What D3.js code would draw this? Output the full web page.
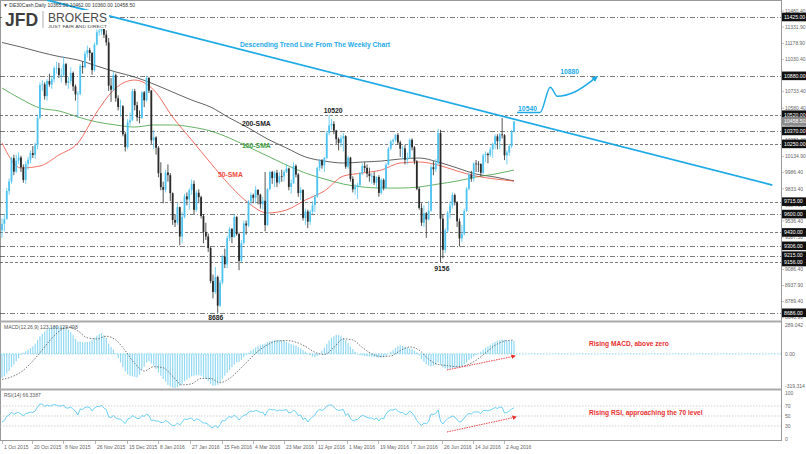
<!DOCTYPE html>
<html><head><meta charset="utf-8">
<script src="https://cdn.jsdelivr.net/npm/d3@7"></script>
<style>body{margin:0;background:#fff}svg{display:block}text{font-family:"Liberation Sans",Arial,sans-serif}</style>
</head><body><svg id="c" width="806" height="454"></svg>
<script>
// ---------- DATA ----------
const open=[9450,9509,9553,9814,9902,10118,9993,10096,10124,10033,9916,10065,10104,10165,10147,10238,10492,10795,10801,10692,10832,10800,
10850,10951,10951,10887,10887,10988,10815,10832,10907,10782,10708,10713,10971,10960,11085,11119,11092,10933,11170,11284,11293,
11382,11261,11190,10789,10752,10886,10673,10592,10598,10340,10220,10450,10469,10738,10608,10497,10489,10727,10653,10860,
10743,10283,10310,10214,9979,9849,9825,9985,9960,9794,9545,9521,9664,9392,9574,9764,9736,9822,9880,9639,
9798,9757,9582,9435,9393,9286,8980,8879,9017,8752,8967,9207,9135,9377,9463,9388,9574,9416,9167,9331,9513,
9495,9717,9776,9751,9824,9778,9692,9723,9498,9831,9990,9933,9983,9892,9950,9948,9990,10022,9851,9887,10046,
9966,9795,9822,9564,9624,9530,9622,9682,9761,10027,10094,10051,10120,10350,10421,10435,10373,10294,10260,10300,10321,
10039,10123,9926,9829,9851,9870,9980,10045,10028,9975,9952,9953,9891,9943,9796,9917,9842,10058,10205,10273,10287,10333,
10263,10205,10208,10103,10121,10288,10218,10089,9834,9657,9520,9607,9551,9631,10034,10015,10071,10350,9557,9269,9448,9612,
9680,9776,9710,9533,9374,9419,9630,9834,9965,9930,10068,10066,10064,9982,10143,10157,10147,10198,10248,10320,10275,
10338,10330,10144,10170,10228,10365];
const high=[9560,9600,9840,9930,10130,10150,10150,10170,10140,10060,10090,10130,10190,10230,10260,10520,10820,10840,10820,10850,10900,10880,
10970,11010,11000,10950,11060,11000,10870,10960,10920,10800,10740,10990,11010,11110,11160,11140,11100,11190,11310,11330,11400,
11425,11300,11230,10860,10920,10900,10700,10660,10610,10360,10480,10540,10760,10760,10640,10560,10740,10740,10880,10870,
10750,10380,10320,10230,10080,9900,10010,10060,9980,9800,9600,9700,9670,9620,9790,9800,9840,9920,9910,9820,
9830,9770,9600,9520,9420,9300,9040,9110,9030,8990,9220,9280,9400,9480,9470,9600,9580,9430,9360,9540,9540,
9730,9800,9790,9860,9830,9790,9760,9990,9840,10000,10000,10000,10010,9990,10010,10010,10060,10030,9920,10080,10060,
9980,9850,9830,9650,9640,9640,9720,9780,10040,10110,10110,10130,10370,10520,10480,10460,10380,10310,10330,10350,10330,
10140,10130,9950,9880,9890,9990,10070,10080,10060,10030,9980,9990,9950,9960,9930,9930,10070,10220,10290,10300,10340,10350,
10280,10230,10240,10170,10300,10300,10230,10100,9850,9700,9680,9620,9720,10060,10090,10110,10390,10380,9600,9470,9630,9720,
9800,9790,9720,9560,9500,9650,9850,9980,10000,10080,10100,10090,10070,10160,10180,10170,10220,10260,10340,10340,10350,
10490,10340,10190,10250,10380,10462];
const low=[9380,9440,9550,9780,9880,9960,9980,10060,9990,9890,9880,10010,10070,10120,10110,10200,10480,10740,10660,10650,10780,10760,
10820,10900,10860,10820,10870,10790,10760,10800,10740,10650,10490,10700,10900,10950,11050,11020,10890,10920,11160,11250,11260,
11230,11160,10740,10640,10740,10640,10560,10500,10320,10180,10200,10420,10460,10560,10460,10440,10480,10590,10640,10720,
10250,10200,10150,9940,9820,9700,9800,9900,9720,9500,9480,9500,9310,9330,9560,9680,9640,9780,9600,9620,
9700,9560,9330,9360,9250,8960,8820,8860,8686,8740,8950,9100,9100,9350,9330,9380,9400,9080,9150,9320,9410,
9480,9680,9700,9700,9690,9650,9640,9440,9490,9820,9880,9850,9850,9880,9900,9900,9980,9820,9790,9880,9940,
9760,9730,9540,9500,9470,9500,9600,9620,9750,10000,10020,9990,10110,10330,10380,10340,10250,10190,10220,10180,10020,
10020,9900,9800,9780,9740,9850,9960,9990,9940,9900,9880,9870,9840,9760,9780,9820,9830,10050,10190,10240,10270,10240,
10130,10110,10060,10060,10110,10190,10060,9820,9640,9490,9480,9380,9540,9620,9960,9990,10060,9156,9190,9240,9430,9560,
9650,9680,9480,9300,9340,9400,9620,9820,9900,9900,9990,9990,9950,9970,10080,10070,10130,10120,10200,10200,10200,
10300,10100,10060,10140,10210,10360];
const close=[9509,9553,9814,9902,10118,9993,10096,10124,10033,9916,10065,10104,10165,10147,10238,10492,10795,10801,10692,10832,10800,10850,
10951,10951,10887,10887,10988,10815,10832,10907,10782,10708,10713,10971,10960,11085,11119,11092,10933,11170,11284,11293,11382,
11261,11190,10789,10752,10886,10673,10592,10598,10340,10220,10450,10469,10738,10608,10497,10489,10727,10653,10860,10743,
10283,10310,10214,9979,9849,9825,9985,9960,9794,9545,9521,9664,9392,9574,9764,9736,9822,9880,9639,9798,
9757,9582,9435,9393,9286,8980,8879,9017,8752,8967,9207,9135,9377,9463,9388,9574,9416,9167,9331,9513,9495,
9717,9776,9751,9824,9778,9692,9723,9498,9831,9990,9933,9983,9892,9950,9948,9990,10022,9851,9887,10046,9966,
9795,9822,9564,9624,9530,9622,9682,9761,10027,10094,10051,10120,10350,10421,10435,10373,10294,10260,10300,10321,10039,
10123,9926,9829,9851,9870,9980,10045,10028,9975,9952,9953,9891,9943,9796,9917,9842,10058,10205,10273,10287,10333,10263,
10205,10208,10103,10121,10288,10218,10089,9834,9657,9520,9607,9551,9631,10034,10015,10071,10350,9557,9269,9448,9612,9680,
9776,9710,9533,9374,9419,9630,9834,9965,9930,10068,10066,10064,9982,10143,10157,10147,10198,10248,10320,10275,10338,
10330,10144,10170,10228,10367,10458.5];

// moving averages sampled every 8 bars
const smaIdx=[0,8,16,24,32,40,48,56,64,72,80,88,96,104,112,120,128,136,144,152,160,168,176,184,192,200,208,216];
const sma50=[10258,10027,10045,10147,10258,10545,10767,10841,10749,10499,10286,10073,9869,9702,9610,9638,9730,9814,9952,9980,10008,10073,10082,10054,9999,9952,9925,9906];
const sma100=[10767,10666,10582,10555,10499,10453,10425,10406,10425,10425,10406,10369,10304,10221,10138,10054,9980,9925,9878,9851,9841,9841,9851,9878,9906,9943,9971,10008];
const sma200=[11189,11147,11100,11059,11027,10971,10916,10869,10804,10730,10656,10591,10490,10397,10295,10212,10129,10091,10073,10082,10091,10110,10119,10082,10027,9971,9943,9906];

// MACD main (histogram) per bar
const macd=[-225,-210,-185,-160,-125,-100,-70,-40,-10,10,25,40,55,70,95,130,165,190,210,230,245,255,262,262,258,255,255,240,225,205,175,140,115,115,110,110,112,118,128,150,170,185,195,175,150,95,65,40,5,-40,-80,-125,-165,-190,-205,-210,-215,-220,-195,-150,-120,-80,-70,-90,-110,-140,-175,-205,-235,-260,-290,-305,-316,-319,-312,-300,-280,-255,-240,-225,-210,-205,-200,-200,-205,-220,-235,-255,-280,-300,-295,-290,-265,-235,-205,-175,-150,-125,-100,-80,-75,-55,-30,-10,10,30,45,60,70,80,90,95,110,120,125,128,130,130,128,120,112,100,92,85,75,62,50,35,22,5,-10,-25,-30,-20,0,30,60,95,125,150,165,178,175,165,150,130,100,70,45,20,0,-10,-15,-20,-22,-25,-28,-30,-32,-35,-33,-30,-20,0,20,35,55,70,80,75,65,58,52,45,30,15,-15,-50,-75,-95,-110,-115,-110,-100,-80,-100,-125,-135,-140,-140,-135,-130,-128,-125,-115,-100,-80,-60,-45,-25,-10,5,20,40,55,70,85,100,112,120,128,135,132,125,122,122,123.18];
// MACD signal sampled every 4 bars
const sigIdx=d3.range(0,217,4);
const signal=[-240,-215,-170,-90,10,120,210,250,215,150,140,165,130,30,-90,-160,-120,-130,-210,-290,-280,-230,-230,-270,-230,-150,-60,25,85,120,125,110,70,15,-5,60,140,130,60,0,-25,-20,30,65,35,-50,-100,-110,-120,-105,-60,10,80,120,129.5];
// RSI(14) per bar
const rsi=[38,41,49,52,58,53,56,57,54,50,55,56,58,57,60,68,74,74,69,72,70,71,73,72,70,70,72,66,66,68,63,60,52,64,63,67,68,67,60,66,69,69,71,66,63,48,47,51,46,44,44,39,35,44,45,51,48,45,45,51,49,54,51,41,42,40,40,37,37,41,38,34,31,31,36,32,38,44,43,45,46,40,44,43,39,36,36,33,28,27,31,26,33,41,40,46,49,47,52,48,42,47,52,52,58,60,59,61,60,57,58,51,60,64,62,63,60,62,61,62,63,56,57,62,58,51,52,43,46,38,44,48,52,60,63,61,64,70,72,72,68,63,61,62,63,51,55,45,41,42,43,48,51,50,47,46,46,43,46,40,46,44,54,60,62,62,64,60,57,57,53,54,60,56,50,41,35,31,36,34,39,54,53,55,62,40,34,40,45,47,50,48,42,38,40,46,52,55,54,58,58,58,55,61,61,60,62,64,67,65,68,67,56,57,60,64,66.34];

const dateLabels=["1 Oct 2015","20 Oct 2015","8 Nov 2015","26 Nov 2015","15 Dec 2015","8 Jan 2016","27 Jan 2016","15 Feb 2016","4 Mar 2016","23 Mar 2016","12 Apr 2016","1 May 2016","19 May 2016","7 Jun 2016","26 Jun 2016","14 Jul 2016","2 Aug 2016"];
const dateIdx=[0,12.7,25.7,39.2,52.7,65.8,79.3,92.8,105.9,119,132.5,145.6,158.6,172.6,185.7,198.7,211.8];
const priceTicks=[11480.40,11331.90,11178.90,11030.40,10733.40,10580.40,10430.90,10281.40,10134.90,9986.40,9833.40,9684.90,9536.40,9387.50,9086.40,8937.90,8789.40,8640.90];
const levels=[11425,10880,10520,10370,10250,9715,9600,9430,9306,9215,9156,8686];
const levelDash=["dd","dd","d","dd","d","d","dd","d","dd","dd","d","dd"];
const lastPrice=10458.50;
const trendIdx=[19,325], trendPrice=[11582,9869];
const projIdx=[217.3,227,231.3,234.3,242,251], projPrice=[10540,10540,10775,10690,10735,10872];
const rsiLevels=[70,50,30];

// ---------- LAYOUT ----------
const svg=d3.select("#c");
const N=close.length, AX=781;
const x=d3.scaleLinear().domain([0,N-1]).range([2,514]);
const yP=d3.scaleLinear().domain([8610,11573]).range([321,1]);
const yM=d3.scaleLinear().domain([-319.314,289.042]).range([388,323]);
const yR=d3.scaleLinear().domain([0,100]).range([441,391]);
const defs=svg.append("defs");
defs.append("clipPath").attr("id","cm").append("rect").attr("x",0).attr("y",0).attr("width",AX).attr("height",321);
defs.append("clipPath").attr("id","cma").append("rect").attr("x",0).attr("y",323).attr("width",AX).attr("height",65);
defs.append("clipPath").attr("id","cr").append("rect").attr("x",0).attr("y",391).attr("width",AX).attr("height",49);
const mk=defs.append("marker").attr("id","ar").attr("viewBox","0 0 10 10").attr("refX",8).attr("refY",5).attr("markerWidth",5).attr("markerHeight",5).attr("orient","auto");
mk.append("path").attr("d","M0,0L10,5L0,10z").attr("fill","#e8302f");
const mk2=defs.append("marker").attr("id","ab").attr("viewBox","0 0 10 10").attr("refX",8).attr("refY",5).attr("markerWidth",4).attr("markerHeight",4).attr("orient","auto");
mk2.append("path").attr("d","M0,0L10,5L0,10z").attr("fill","#1eaae7");

// frames
svg.append("rect").attr("x",0.5).attr("y",0.5).attr("width",AX).attr("height",440).attr("fill","none").attr("stroke","#999").attr("stroke-width",1);
svg.append("line").attr("x1",0).attr("x2",AX).attr("y1",321.5).attr("y2",321.5).attr("stroke","#aaa").attr("stroke-width",2);
svg.append("line").attr("x1",0).attr("x2",AX).attr("y1",389.5).attr("y2",389.5).attr("stroke","#aaa").attr("stroke-width",2);

// main panel
const gm=svg.append("g").attr("clip-path","url(#cm)");
gm.selectAll("line.lv").data(levels).join("line").attr("x1",0).attr("x2",AX).attr("y1",d=>Math.round(yP(d))+0.5).attr("y2",d=>Math.round(yP(d))+0.5)
 .attr("stroke","#444").attr("stroke-width",0.7).attr("stroke-dasharray",(d,i)=>levelDash[i]==="dd"?"5,2,1,2":"3,2");
const ln=d3.line().curve(d3.curveMonotoneX);
function smaPath(arr,col){gm.append("path").attr("d",ln(arr.map((v,k)=>[x(smaIdx[k]),yP(v)]))).attr("fill","none").attr("stroke",col).attr("stroke-width",0.8);}
smaPath(sma200,"#3a3a3a");smaPath(sma100,"#3f9e3f");smaPath(sma50,"#ee4a3c");
const bull="#4fc4f0", bear="#2a2a2a";
const idx=d3.range(N);
gm.selectAll("line.wk").data(idx).join("line").attr("x1",i=>x(i)).attr("x2",i=>x(i)).attr("y1",i=>yP(high[i])).attr("y2",i=>yP(low[i]))
 .attr("stroke",i=>close[i]>=open[i]?bull:bear).attr("stroke-width",0.8);
gm.selectAll("rect.bd").data(idx).join("rect").attr("x",i=>x(i)-0.9).attr("width",1.8)
 .attr("y",i=>yP(Math.max(open[i],close[i]))).attr("height",i=>Math.max(0.7,Math.abs(yP(open[i])-yP(close[i]))))
 .attr("fill",i=>close[i]>=open[i]?bull:bear);
// trend line
gm.append("line").attr("x1",x(trendIdx[0])).attr("y1",yP(trendPrice[0])).attr("x2",x(trendIdx[1])).attr("y2",yP(trendPrice[1])).attr("stroke","#1eaae7").attr("stroke-width",1.8);
// projection
gm.append("path").attr("d",d3.line().curve(d3.curveMonotoneX)(projIdx.map((v,k)=>[x(v),yP(projPrice[k])]))).attr("fill","none").attr("stroke","#1eaae7").attr("stroke-width",1.5).attr("marker-end","url(#ab)");

// logo
const lg=svg.append("g");
lg.append("rect").attr("x",2).attr("y",10).attr("width",107).attr("height",19).attr("fill","#fff");
lg.append("text").attr("x",5).attr("y",26).attr("font-size",17.5).attr("font-weight","bold").attr("fill","#3d3d3d").text("JFD");
lg.append("line").attr("x1",43).attr("x2",43).attr("y1",11).attr("y2",28).attr("stroke","#999").attr("stroke-width",0.8);
lg.append("text").attr("x",48).attr("y",22).attr("font-size",13.5).attr("font-family","Liberation Serif,serif").attr("fill","#4a4a4a").attr("textLength",59).attr("lengthAdjust","spacingAndGlyphs").text("BROKERS");
lg.append("text").attr("x",48).attr("y",28.3).attr("font-size",4.2).attr("font-family","Liberation Serif,serif").attr("fill","#4a4a4a").attr("textLength",59).attr("lengthAdjust","spacingAndGlyphs").text("JUST FAIR AND DIRECT");
svg.append("text").attr("x",3).attr("y",7).attr("font-size",5).attr("fill","#333").text("\u25BC DE30Cash,Daily  10365.00 10462.00 10360.00 10458.50");

// annotations main
const ann=(t,xx,yy,col,fs,anchor)=>svg.append("text").attr("x",xx).attr("y",yy).attr("font-size",fs).attr("font-weight","bold").attr("fill",col).attr("text-anchor",anchor||"start").text(t);
ann("Descending Trend Line From The Weekly Chart",240,47,"#1eaae7",6.7);
ann("10520",x(138)+4,yP(10520)-2,"#222",6.8,"middle");
ann("200-SMA",242,126,"#222",6.8);
ann("100-SMA",242,148,"#3f9e3f",6.8);
ann("50-SMA",218,177,"#ee4a3c",6.8);
ann("8686",x(91)-2,320,"#222",6.8,"middle");
ann("9156",x(186)-1,yP(9156)+8.5,"#222",6.8,"middle");
ann("10540",x(217.3)+1,yP(10540)-1.5,"#1eaae7",6.8);
ann("10880",x(235.5),yP(10880)-1.5,"#1eaae7",6.8);

// price axis
svg.append("line").attr("x1",AX+0.5).attr("x2",AX+0.5).attr("y1",0).attr("y2",441).attr("stroke","#999");
const pa=svg.append("g");
priceTicks.forEach(v=>{const yy=yP(v);
 pa.append("line").attr("x1",AX).attr("x2",AX+3).attr("y1",yy).attr("y2",yy).attr("stroke","#999").attr("stroke-width",0.6);
 pa.append("text").attr("x",AX+4).attr("y",yy+1.8).attr("font-size",5).attr("fill","#666").text(v.toFixed(2));});
levels.forEach(v=>{const yy=yP(v);
 pa.append("rect").attr("x",AX+1).attr("y",yy-4.3).attr("width",24).attr("height",8.6).attr("fill","#111");
 pa.append("text").attr("x",AX+3).attr("y",yy+1.8).attr("font-size",5.2).attr("fill","#fff").text(v.toFixed(2));});
{const yy=yP(lastPrice);
 pa.append("rect").attr("x",AX+1).attr("y",yy-4.3).attr("width",24).attr("height",8.6).attr("fill","#8a8a8a");
 pa.append("text").attr("x",AX+3).attr("y",yy+1.8).attr("font-size",5.2).attr("fill","#fff").text(lastPrice.toFixed(2));}

// MACD panel
const gma=svg.append("g").attr("clip-path","url(#cma)");
gma.append("line").attr("x1",0).attr("x2",AX).attr("y1",yM(0)).attr("y2",yM(0)).attr("stroke","#4fc4f0").attr("stroke-width",0.7).attr("stroke-dasharray","1.5,1.5");
gma.selectAll("rect.h").data(idx).join("rect").attr("x",i=>x(i)-0.6).attr("width",1.2)
 .attr("y",i=>yM(Math.max(0,macd[i]))).attr("height",i=>Math.abs(yM(macd[i])-yM(0))).attr("fill","#7fd2f1").attr("opacity",0.85);
gma.append("path").attr("d",ln(signal.map((v,k)=>[x(sigIdx[k]),yM(v)]))).attr("fill","none").attr("stroke","#555").attr("stroke-width",0.8).attr("stroke-dasharray","1.5,1.5");
gma.append("line").attr("x1",447).attr("y1",370).attr("x2",515).attr("y2",356).attr("stroke","#e8302f").attr("stroke-width",0.9).attr("stroke-dasharray","1.5,1").attr("marker-end","url(#ar)");
svg.append("text").attr("x",4).attr("y",329).attr("font-size",5).attr("fill","#555").text("MACD(12,26,9) 123.180 129.498");
ann("Rising MACD, above zero",589,346,"#e8302f",6.6);
[["289.042",yM(289.042)+4],["0.00",yM(0)+1.8],["-319.314",yM(-319.314)-0.5]].forEach(d=>{
 svg.append("text").attr("x",AX+4).attr("y",d[1]).attr("font-size",5).attr("fill","#666").text(d[0]);});

// RSI panel
const gr=svg.append("g").attr("clip-path","url(#cr)");
gr.selectAll("line.rl").data(rsiLevels).join("line").attr("x1",0).attr("x2",AX).attr("y1",d=>yR(d)).attr("y2",d=>yR(d)).attr("stroke","#bbb").attr("stroke-width",0.7).attr("stroke-dasharray","1.5,1.5");
gr.append("path").attr("d",d3.line()(rsi.map((v,i)=>[x(i),yR(v)]))).attr("fill","none").attr("stroke","#5ccbf0").attr("stroke-width",0.9);
gr.append("line").attr("x1",447).attr("y1",432).attr("x2",516).attr("y2",417).attr("stroke","#e8302f").attr("stroke-width",0.9).attr("stroke-dasharray","1.5,1").attr("marker-end","url(#ar)");
svg.append("text").attr("x",4).attr("y",397).attr("font-size",5).attr("fill","#555").text("RSI(14) 66.3387");
ann("Rising RSI, approaching the 70 level",589,415,"#e8302f",6.6);
[["100",yR(100)+4],["70",yR(70)+1.8],["50",yR(50)+1.8],["30",yR(30)+1.8],["0",yR(0)-0.5]].forEach(d=>{
 svg.append("text").attr("x",AX+4).attr("y",d[1]).attr("font-size",5).attr("fill","#666").text(d[0]);});

// date axis
const da=svg.append("g");
dateIdx.forEach((v,k)=>{const xx=Math.round(x(v))+0.5;
 da.append("line").attr("x1",xx).attr("x2",xx).attr("y1",440).attr("y2",444).attr("stroke","#999").attr("stroke-width",0.7);
 da.append("text").attr("x",xx+1.5).attr("y",449).attr("font-size",5).attr("fill","#666").text(dateLabels[k]);});
</script></body></html>
